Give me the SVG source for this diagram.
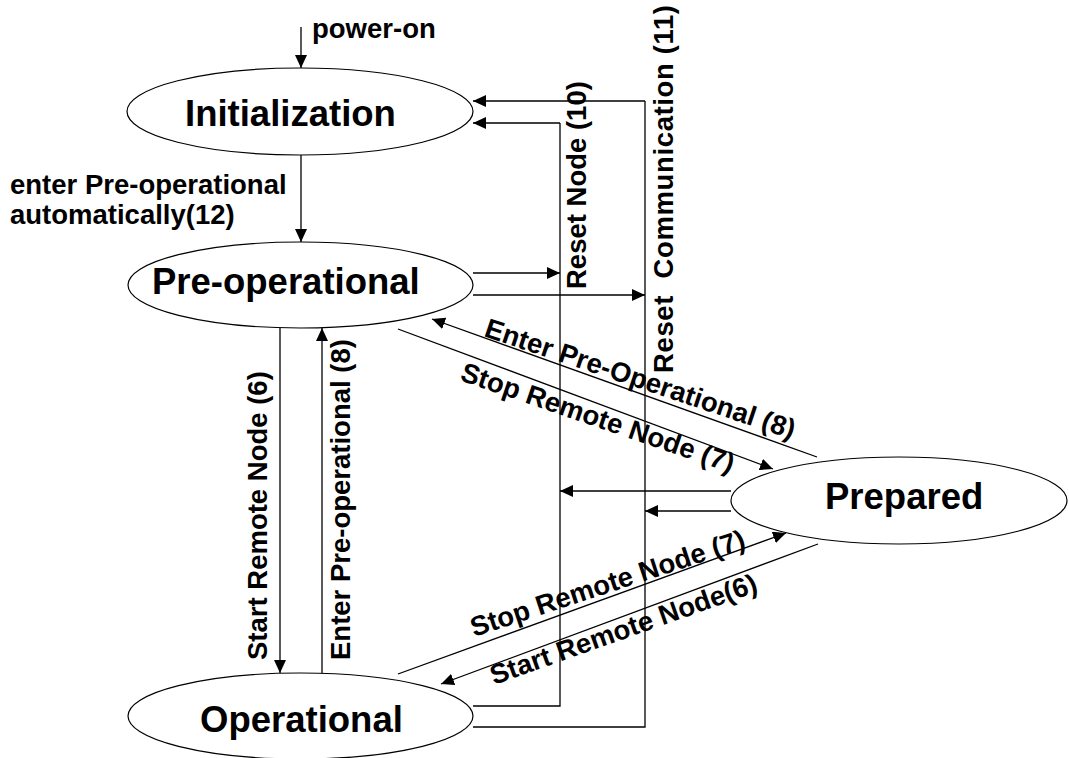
<svg xmlns="http://www.w3.org/2000/svg" width="1069" height="758" viewBox="0 0 1069 758">
  <style>
    .node ellipse { fill: #fff; stroke: #000; stroke-width: 1.2; }
    .node text { font-family: "Liberation Sans", Arial, sans-serif; font-weight: bold; font-size: 36.5px; fill: #000; }
    .wire { stroke: #000; stroke-width: 1.3; fill: none; }
    .arr { marker-end: url(#head); }
    .lbl { font-family: "Liberation Sans", Arial, sans-serif; font-weight: bold; font-size: 27.5px; fill: #000; white-space: pre; }
  </style>
  <defs>
    <marker id="head" markerUnits="userSpaceOnUse" markerWidth="13" markerHeight="12" refX="13" refY="6" orient="auto">
      <path d="M0,0 L13,6 L0,12 Z" fill="#000"/>
    </marker>
  </defs>
  <rect width="1069" height="758" fill="#fff"/>

  <!-- state nodes -->
  <g id="initialization" class="node">
    <ellipse cx="300" cy="111.5" rx="173" ry="43.5"/>
    <text x="185" y="126">Initialization</text>
  </g>
  <g id="pre-operational" class="node">
    <ellipse cx="300.5" cy="285" rx="172.5" ry="43"/>
    <text x="152" y="294">Pre-operational</text>
  </g>
  <g id="operational" class="node">
    <ellipse cx="300.5" cy="716" rx="172.5" ry="43"/>
    <text x="200" y="732">Operational</text>
  </g>
  <g id="prepared" class="node">
    <ellipse cx="899" cy="500.5" rx="168" ry="43.5"/>
    <text x="825" y="509">Prepared</text>
  </g>

  <!-- transitions -->
  <g id="connectors">
    <!-- power-on and automatic entry -->
    <line class="wire arr" x1="301" y1="27" x2="301" y2="68"/>
    <line class="wire arr" x1="301" y1="155" x2="301" y2="242"/>

    <!-- Pre-operational <-> Operational -->
    <line class="wire arr" x1="280" y1="328" x2="280" y2="673"/>
    <line class="wire arr" x1="322" y1="673" x2="322" y2="328"/>

    <!-- Reset Node bus -->
    <polyline class="wire" points="473,706 560,706 560,123"/>
    <line class="wire arr" x1="560" y1="123" x2="473" y2="123"/>
    <line class="wire arr" x1="473" y1="273" x2="560" y2="273"/>
    <line class="wire arr" x1="731" y1="491" x2="560" y2="491"/>

    <!-- Reset Communication bus -->
    <polyline class="wire" points="473,727 645,727 645,101"/>
    <line class="wire arr" x1="645" y1="101" x2="473" y2="101"/>
    <line class="wire arr" x1="473" y1="295" x2="645" y2="295"/>
    <line class="wire arr" x1="731" y1="511" x2="645" y2="511"/>

    <!-- Pre-operational <-> Prepared -->
    <line class="wire arr" x1="817" y1="457" x2="432" y2="319"/>
    <line class="wire arr" x1="398" y1="329" x2="773" y2="469"/>

    <!-- Operational <-> Prepared -->
    <line class="wire arr" x1="398" y1="674" x2="786" y2="533"/>
    <line class="wire arr" x1="818" y1="544" x2="441" y2="684"/>
  </g>

  <!-- transition labels -->
  <g id="labels">
    <text class="lbl" x="312" y="38">power-on</text>
    <text class="lbl" x="10" y="194">enter Pre-operational</text>
    <text class="lbl" x="10" y="224">automatically(12)</text>

    <text class="lbl" transform="translate(267,660) rotate(-90)">Start Remote Node (6)</text>
    <text class="lbl" transform="translate(350,660) rotate(-90)">Enter Pre-operational (8)</text>

    <text class="lbl" transform="translate(586,289) rotate(-90)">Reset Node (10)</text>
    <text class="lbl" transform="translate(673,373) rotate(-90)" textLength="368">Reset  Communication (11)</text>

    <text class="lbl" transform="translate(483,336) rotate(18.5)">Enter Pre-Operational (8)</text>
    <text class="lbl" transform="translate(459,380) rotate(18.9)">Stop Remote Node (7)</text>

    <text class="lbl" transform="translate(474,637) rotate(-18.2)">Stop Remote Node (7)</text>
    <text class="lbl" transform="translate(494,685) rotate(-19.5)">Start Remote Node(6)</text>
  </g>
</svg>
